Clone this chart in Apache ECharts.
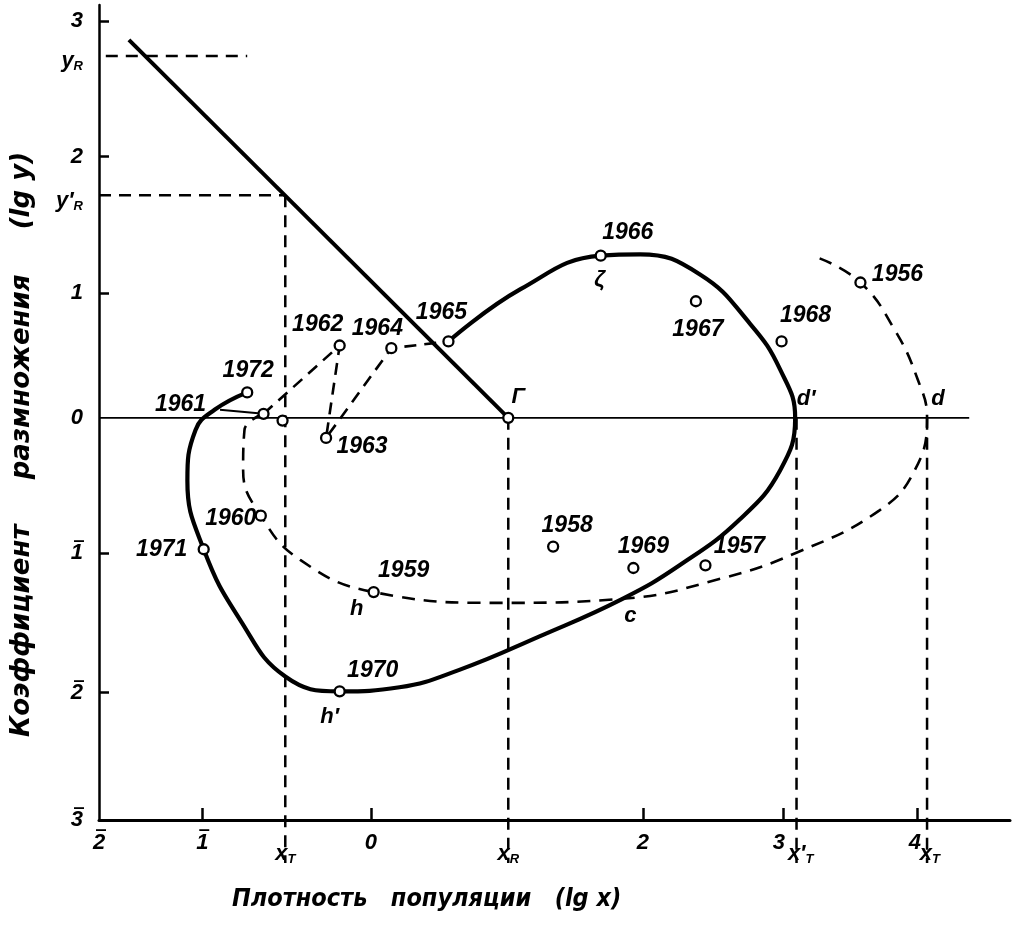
<!DOCTYPE html>
<html><head><meta charset="utf-8">
<script src="https://cdn.jsdelivr.net/npm/echarts@6/dist/echarts.min.js"></script>
<style>html,body{margin:0;padding:0;background:#fff}#c{width:1015px;height:931px}</style>
</head><body><div id="c"></div><script>
// ---------- data (lg x, lg y) ----------
const years  = [1956, 1957, 1958, 1959, 1960, 1961, 1962, 1963, 1964, 1965, 1966, 1967, 1968, 1969, 1970, 1971, 1972];
const yearX  = [3.60, 2.46, 1.34, 0.02, -0.81, -0.79, -0.23, -0.33, 0.15, 0.57, 1.69, 2.39, 3.02, 1.93, -0.23, -1.23, -0.91];
const yearY  = [1.01, -1.10, -0.96, -1.30, -0.73, 0.03, 0.54, -0.15, 0.52, 0.57, 1.21, 0.87, 0.57, -1.12, -2.04, -0.98, 0.19];

// solid trajectory 1965 -> 1972
const solidX = [0.57, 1.10, 1.69, 1.98, 2.42, 2.79, 3.01, 3.12, 3.01, 2.71, 2.27, 1.85, 1.24, 0.65, 0.21, -0.23, -0.63, -0.96, -1.23, -1.35, -1.29, -1.15, -0.91];
const solidY = [0.57, 0.96, 1.21, 1.22, 1.07, 0.70, 0.36, 0.00, -0.39, -0.76, -1.10, -1.35, -1.63, -1.88, -2.01, -2.04, -1.93, -1.51, -0.98, -0.47, -0.09, 0.06, 0.19];

// dashed (theoretical) cycle 1956 -> 1961
const dashX = [3.30, 3.60, 3.85, 4.02, 4.09, 4.00, 3.74, 3.12, 2.57, 1.85, 0.95, 0.02, -0.52, -0.81, -0.94, -0.93, -0.79];
const dashY = [1.19, 1.01, 0.66, 0.29, 0.00, -0.39, -0.69, -1.01, -1.20, -1.35, -1.38, -1.30, -1.06, -0.73, -0.39, -0.09, 0.03];

// dashed zig-zag 1961 -> 1965
const zigYears = [1961, 1962, 1963, 1964, 1965];
// thin connector from the solid curve to the 1961 point
const connX = [-1.11, -0.79];
const connY = [0.06, 0.03];
// extra unlabelled point on the x_T line
const extraPointX = [-0.65];
const extraPointY = [-0.02];

// reproduction line through Г
const lineRX = [-1.78, 1.01];
const lineRY = [2.82, 0.00];

// named reference values
const yR = 2.70, yRp = 1.66;
const xT1 = -0.63, xR = 1.01, xTp = 3.13, xT = 4.09;
const axisBottomExt = -3.32;

// tick positions / labels
const xTickValues  = [-1.24, 0, 2, 3.03, 4.02];
const xLabelValues = [-2, -1.24, 0, 2, 3.0, 4.0];
const xLabelTexts  = ['2', '1', '0', '2', '3', '4'];
const xBarValues   = [-2, -1.24];            // labels written with an overbar (negative characteristic)
const xLetterValues = [-0.63, 1.01, 3.16, 4.11];
const xLetterTexts  = ['{v|x}{s|T}', '{v|x}{s|R}', '{v|x′}{s|T}', '{v|x}{s|T}'];
const yTickValues  = [2.96, 1.95, 0.93, -1.01, -2.05];
const yLabelValues = [2.96, 2.66, 1.95, 1.62, 0.93, 0, -1.01, -2.05, -3.0];
const yLabelTexts  = ['3', '{v|y}{s|R}', '2', '{v|y′}{s|R}', '1', '0', '1', '2', '3'];
const yBarValues   = [-1.01, -2.05, -3.0];

// letter annotations
const letterNames = ['Г', 'd', 'd′', 'ζ', 'c', 'h', 'h′'];
const letterX = [1.01, 4.09, 3.12, 1.69, 1.85, 0.02, -0.23];
const letterY = [0.00, 0.00, 0.00, 1.21, -1.35, -1.30, -2.04];

// ---------- layout (label offsets, px) ----------
const yearLabelOffset = {
  1956: [37, -8], 1957: [34, -19], 1958: [14, -21], 1959: [30, -21], 1960: [-30, 3],
  1961: [-83, -9], 1962: [-22, -21], 1963: [36, 9], 1964: [-14, -20], 1965: [-7, -29],
  1966: [27, -23], 1967: [2, 28], 1968: [24, -26], 1969: [10, -21], 1970: [33, -21],
  1971: [-42, 0], 1972: [1, -22]
};
const letterOffset = [[10, -21], [11, -19], [11, -19], [-1, 24], [8, 17], [-17, 17], [-10, 26]];

const FONT = "'Liberation Sans Narrow', 'Liberation Sans', 'DejaVu Sans', sans-serif";
const ink = '#000';

const pair = (xs, ys) => xs.map((x, i) => [x, ys[i]]);
const yearPt = y => { const i = years.indexOf(y); return [yearX[i], yearY[i]]; };
const pick = (vals, texts) => v => {
  for (let i = 0; i < vals.length; i++) if (Math.abs(vals[i] - v) < 1e-6) return texts[i];
  return '';
};
const numFont = { fontFamily: FONT, fontStyle: 'italic', fontWeight: 'bold', fontSize: 22, color: ink };
const subRich = {
  v: { fontFamily: FONT, fontStyle: 'italic', fontWeight: 'bold', fontSize: 22, color: ink, lineHeight: 24 },
  s: { fontFamily: FONT, fontStyle: 'italic', fontWeight: 'bold', fontSize: 13, color: ink, lineHeight: 24, verticalAlign: 'bottom', padding: [12, 0, 0, 0] }
};
const barRich = {
  b: { fontFamily: "'DejaVu Sans', sans-serif", fontWeight: 'bold', fontSize: 20, color: ink, lineHeight: 14 }
};

const refLine = (pts, extra) => Object.assign({
  type: 'line', data: pts, showSymbol: false, clip: false, silent: true, z: 2,
  lineStyle: { color: ink, width: 2.5, type: [12, 8] }
}, extra || {});

const pointStyle = { color: '#fff', borderColor: ink, borderWidth: 2.3, opacity: 1 };
const hiddenAxis = { axisLine: { show: false }, axisTick: { show: false }, splitLine: { show: false } };

const chart = echarts.init(document.getElementById('c'), null, { renderer: 'canvas' });
chart.setOption({
  animation: false,
  backgroundColor: '#fff',
  grid: { left: 99, right: 5, top: 5, bottom: 111, containLabel: false, outerBoundsMode: 'none' },
  xAxis: [{
    type: 'value', min: -2, max: 4.7,
    axisLine: { show: true, onZero: false, lineStyle: { color: ink, width: 3 } },
    axisTick: { show: true, inside: true, length: 12, lineStyle: { color: ink, width: 2.5 }, customValues: xTickValues },
    axisLabel: Object.assign({ customValues: xLabelValues, formatter: pick(xLabelValues, xLabelTexts), margin: 12 }, numFont),
    splitLine: { show: false }
  }, Object.assign({
    type: 'value', min: -2, max: 4.7, position: 'bottom',
    axisLabel: { customValues: xLetterValues, formatter: pick(xLetterValues, xLetterTexts), margin: 22, rich: subRich }
  }, hiddenAxis), Object.assign({
    type: 'value', min: -2, max: 4.7, position: 'bottom',
    axisLabel: { customValues: xBarValues, formatter: () => '{b|‾}', margin: 12, rich: barRich, padding: [0, 0, 0, 4] }
  }, hiddenAxis)],
  yAxis: [{
    type: 'value', min: -3, max: 3.08,
    axisLine: { show: true, onZero: false, lineStyle: { color: ink, width: 2.5 } },
    axisTick: { show: true, inside: true, length: 10, lineStyle: { color: ink, width: 2.5 }, customValues: yTickValues },
    axisLabel: Object.assign({ customValues: yLabelValues, formatter: pick(yLabelValues, yLabelTexts), margin: 16, rich: subRich }, numFont),
    splitLine: { show: false }
  }, Object.assign({
    type: 'value', min: -3, max: 3.08, position: 'left',
    axisLabel: { customValues: yBarValues, formatter: () => '{b|‾}', margin: 15, rich: barRich, padding: [0, 0, 6, 0] }
  }, hiddenAxis)],
  graphic: [
    { type: 'text', left: 232, top: 887, style: { text: 'Плотность   популяции   (lg x)', fill: ink,
      font: "italic bold 25px 'DejaVu Sans Condensed', 'DejaVu Sans', sans-serif" } },
    { type: 'text', x: 9, y: 737, rotation: Math.PI / 2, style: { text: 'Коэффициент     размножения     (lg y)', fill: ink,
      font: "italic bold 26px 'DejaVu Sans', sans-serif" } }
  ],
  series: [
    { type: 'line', data: [[-2, 0], [4.4, 0]], showSymbol: false, silent: true, z: 1,
      lineStyle: { color: ink, width: 1.6 } },
    refLine([[-1.95, yR], [-0.91, yR]]),
    refLine([[-2, yRp], [xT1, yRp]]),
    refLine([[xT1, yRp], [xT1, axisBottomExt]]),
    refLine([[xR, 0], [xR, axisBottomExt]]),
    refLine([[xTp, 0], [xTp, axisBottomExt]]),
    refLine([[xT, 0], [xT, axisBottomExt]]),
    { type: 'line', data: pair(lineRX, lineRY), showSymbol: false, silent: true, z: 3,
      lineStyle: { color: ink, width: 4 } },
    { type: 'line', data: pair(dashX, dashY), smooth: 0.45, showSymbol: false, silent: true, z: 3,
      lineStyle: { color: ink, width: 2.6, type: [13, 9] } },
    { type: 'line', data: zigYears.map(yearPt), showSymbol: false, silent: true, z: 3,
      lineStyle: { color: ink, width: 2.6, type: [12, 8] } },
    { type: 'line', data: pair(connX, connY), showSymbol: false, silent: true, z: 3,
      lineStyle: { color: ink, width: 2 } },
    { type: 'line', data: pair(solidX, solidY), smooth: 0.45, showSymbol: false, silent: true, z: 4,
      lineStyle: { color: ink, width: 4.2 } },
    { type: 'scatter', z: 6, symbol: 'circle', symbolSize: 10, itemStyle: pointStyle,
      data: years.map((y, i) => ({ value: [yearX[i], yearY[i], y],
        label: { offset: yearLabelOffset[y] } })),
      label: { show: true, position: 'inside', formatter: p => String(p.value[2]), opacity: 1,
        textBorderWidth: 0, fontFamily: FONT, fontStyle: 'italic', fontWeight: 'bold', fontSize: 23, color: ink }
    },
    { type: 'scatter', z: 6, symbol: 'circle', symbolSize: 10, itemStyle: pointStyle,
      data: pair(extraPointX, extraPointY).concat([[xR, 0]]) },
    { type: 'scatter', z: 7, symbolSize: 0, silent: true, itemStyle: { opacity: 1 },
      data: letterNames.map((n, i) => ({ value: [letterX[i], letterY[i], n],
        label: { offset: letterOffset[i] } })),
      label: { show: true, position: 'inside', formatter: p => p.value[2], opacity: 1, textBorderWidth: 0,
        fontFamily: FONT, fontStyle: 'italic', fontWeight: 'bold', fontSize: 22, color: ink }
    }
  ]
});
</script></body></html>
